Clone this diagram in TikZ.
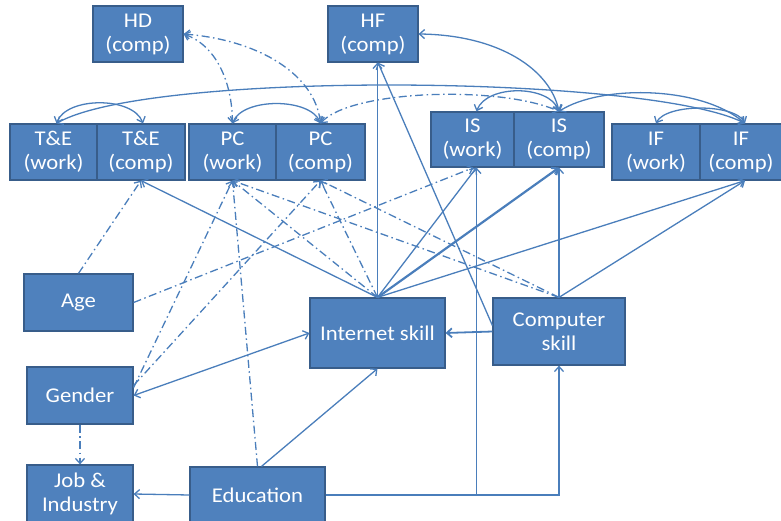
\documentclass[tikz,border=0pt]{standalone}
\usepackage{fontspec}
\setmainfont{Carlito}[FakeStretch=1.08]
\usetikzlibrary{arrows.meta,calc}

\definecolor{boxfill}{HTML}{4F81BD}
\definecolor{boxline}{HTML}{385D8A}
\definecolor{linkcol}{HTML}{4A7EBB}

\begin{document}
\begin{tikzpicture}[x=1pt,y=-1pt,
  box/.style={draw=boxline, line width=1.2pt, fill=boxfill, text=white,
    align=center, inner sep=0pt, font=\fontsize{21}{24}\selectfont},
  link/.style={draw=linkcol, line width=1.3pt, -{Straight Barb[length=5pt,width=9pt]}},
  twoway/.style={link, {Straight Barb[length=5pt,width=9pt]}-{Straight Barb[length=5pt,width=9pt]}},
  dashdot/.style={dash pattern=on 8pt off 3.5pt on 1.5pt off 3.5pt},
]
\useasboundingbox (0,0) rectangle (781,521);
\clip (0,0) rectangle (781,521);

% boxes
\node[box, minimum width=90pt, minimum height=56pt] (HD) at (138,34) {HD\\(comp)};
\node[box, minimum width=90pt, minimum height=56pt] (HF) at (373,34) {HF\\(comp)};
\node[box, minimum width=87pt, minimum height=56pt] (TEw) at (53.5,152) {T\&E\\(work)};
\node[box, minimum width=88pt, minimum height=56pt] (TEc) at (141,152) {T\&E\\(comp)};
\node[box, minimum width=87pt, minimum height=56pt] (PCw) at (232.5,152) {PC\\(work)};
\node[box, minimum width=89pt, minimum height=56pt] (PCc) at (320.5,152) {PC\\(comp)};
\node[box, minimum width=83pt, minimum height=55pt] (ISw) at (472.5,139.5) {IS\\(work)};
\node[box, minimum width=90pt, minimum height=55pt] (ISc) at (559,139.5) {IS\\(comp)};
\node[box, minimum width=88pt, minimum height=56pt] (IFw) at (656,152) {IF\\(work)};
\node[box, minimum width=82pt, minimum height=56pt] (IFc) at (741,152) {IF\\(comp)};
\node[box, minimum width=109pt, minimum height=57pt] (Age) at (78.5,302.5) {Age};
\node[box, minimum width=135pt, minimum height=70pt] (ISk) at (377.5,333) {Internet skill};
\node[box, minimum width=132pt, minimum height=67pt] (CS) at (559,331.5) {Computer\\skill};
\node[box, minimum width=106pt, minimum height=57pt] (Gender) at (80,395.5) {Gender};
\node[box, minimum width=106pt, minimum height=58pt] (Job) at (80,494) {Job \&\\Industry};
\node[box, minimum width=135pt, minimum height=56pt] (Edu) at (257.5,495) {Education};

% correlations along the top
\draw[twoway] ([xshift=3pt]TEw.north) .. controls +(10,-27) and +(-10,-27) .. ([xshift=2pt]TEc.north);
\draw[twoway] (PCw.north) .. controls +(10,-26) and +(-10,-26) .. (PCc.north);
\draw[twoway] ([xshift=4pt]ISw.north) .. controls +(10,-27) and +(-10,-27) .. (ISc.north);
\draw[twoway] (IFw.north) .. controls +(10,-20) and +(-10,-20) .. ([xshift=4pt]IFc.north);
\draw[twoway] ([xshift=3pt]TEw.north) .. controls (150,70) and (650,75) .. ([xshift=4pt]IFc.north);
\draw[twoway] (ISc.north) .. controls (600,85) and (700,85) .. ([xshift=4pt]IFc.north);
\draw[twoway] (HF.east) .. controls (500,35) and (550,70) .. (ISc.north);
\draw[twoway,dashdot] (PCc.north) .. controls (350,90) and (500,85) .. (ISc.north);
\draw[twoway,dashdot] (HD.east) .. controls (215,45) and (232,80) .. (PCw.north);
\draw[twoway,dashdot] (HD.east) .. controls (260,40) and (315,75) .. (PCc.north);

% effects of internet skill
\draw[link] (ISk.north) -- (TEc.south);
\draw[link] (ISk.north) -- (ISk.north |- HF.south);
\draw[link] (ISk.north) -- ([xshift=4pt]ISw.south);
\draw[link, line width=2.2pt] (ISk.north) -- (ISc.south);
\draw[link] (ISk.north) -- ([xshift=4pt]IFc.south);
\draw[link,dashdot] (ISk.north) -- (PCw.south);
\draw[link,dashdot] (ISk.north) -- (PCc.south);

% effects of computer skill
\draw[link] (CS.north) -- (ISc.south);
\draw[link] (CS.north) -- ([xshift=4pt]IFc.south);
\draw[link, line width=1.8pt] (CS.west) -- (ISk.east);
\draw[link] ([yshift=6pt]CS.west) -- ([xshift=5pt]HF.south);
\draw[link,dashdot] (CS.north) -- (PCw.south);
\draw[link,dashdot] (CS.north) -- (PCc.south);

% background variables
\draw[link,dashdot] (Age.north) -- (TEc.south);
\draw[link,dashdot] (Age.east) -- ([xshift=1pt]ISw.south);
\draw[link,dashdot] ([yshift=8pt]Gender.east) -- (PCw.south);
\draw[link,dashdot] ([yshift=10pt]Gender.east) -- (PCc.south);
\draw[twoway] (Gender.east) -- (ISk.west);
\draw[link,dashdot] (Gender.south) -- (Job.north);
\draw[link,dashdot] (Edu.north) -- (PCw.south);
\draw[link] ([xshift=4pt]Edu.north) -- (ISk.south);
\draw[link] (Edu.west) -- (Job.east);
\draw[link] (Edu.east) -| (CS.south);
\draw[link] (Edu.east) -| ([xshift=4pt]ISw.south);
\end{tikzpicture}
\end{document}
